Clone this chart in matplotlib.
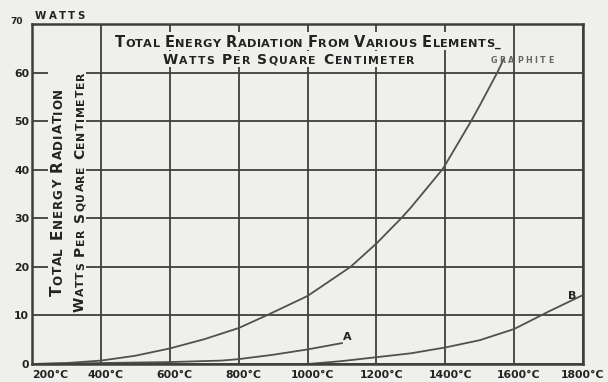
import matplotlib
matplotlib.use('Agg')
import matplotlib.pyplot as plt
import matplotlib.transforms as mtransforms
from matplotlib.font_manager import FontProperties
from matplotlib.patches import Rectangle

# readings, deg C against watts per sq cm
graphite_t = [200, 300, 400, 500, 600, 700, 800, 881, 1000, 1125, 1200, 1272, 1300, 1391, 1400, 1475, 1500, 1551, 1570]
graphite_w = [0, 0.2, 0.7, 1.7, 3.2, 5.1, 7.4, 10, 14, 20, 24.8, 30, 32.2, 40, 41, 50, 53.2, 60, 62.8]
a_t = [200, 400, 600, 750, 800, 900, 1000, 1100]
a_w = [0, 0.2, 0.4, 0.7, 1.0, 1.9, 3.0, 4.3]
b_t = [1000, 1100, 1200, 1300, 1400, 1500, 1600, 1678, 1700, 1800]
b_w = [0, 0.6, 1.4, 2.2, 3.4, 4.9, 7.2, 10, 10.8, 14.2]

xticks = [200, 400, 600, 800, 1000, 1200, 1400, 1600, 1800]
xlabels = ['200°C', '400°C', '600°C', '800°C', '1000°C', '1200°C', '1400°C', '1600°C', '1800°C']
yticks = [0, 10, 20, 30, 40, 50, 60, 70]
ylabels = ['0', '10', '20', '30', '40', '50', '60', '70']

PAPER = '#efefeb'
INK = '#232323'
RULE = '#3e3e3e'
FONT = 'DejaVu Sans'


def letter(ax, x, y, text, size, big=None, gap=1.0, space=5.0, rotation=0,
           ha='center', color=INK, weight='bold'):
    # hand lettering: capitals of the source drawn at `big`, the rest as
    # small capitals at `size`, each glyph placed with a fixed gap in pixels
    fig = ax.figure
    renderer = fig.canvas.get_renderer()
    items = []
    pos = 0.0
    top = 0.0
    for ch in text:
        if ch == ' ':
            pos += space
            continue
        s = big if (big and ch.isupper()) else size
        g = ch.upper()
        prop = FontProperties(family=FONT, weight=weight, size=s)
        w, h, d = renderer.get_text_width_height_descent(g, prop, ismath=False)
        items.append((g, s, pos))
        pos += w + gap
        top = max(top, h - d)
    length = pos - gap
    start = {'left': 0.0, 'center': -length / 2, 'right': -length}[ha]
    for g, s, p in items:
        off = start + p
        dx, dy = (off, 0) if rotation == 0 else (0, off)
        tr = mtransforms.offset_copy(ax.transData, fig=fig, x=dx, y=dy, units='dots')
        ax.text(x, y, g, fontsize=s, fontweight=weight, family=FONT, color=color,
                rotation=rotation, rotation_mode='anchor', ha='left', va='baseline',
                transform=tr, zorder=4, clip_on=False)
    x0, y0 = ax.transData.transform((x, y))
    if rotation == 0:
        return (x0 + start, y0, x0 + start + length, y0 + top)
    return (x0 - top, y0 + start, x0, y0 + start + length)


def blank(ax, boxes, pad=3):
    # rub the rules out behind a block of lettering
    x0 = min(b[0] for b in boxes) - pad
    y0 = min(b[1] for b in boxes) - pad
    x1 = max(b[2] for b in boxes) + pad
    y1 = max(b[3] for b in boxes) + pad
    ax.add_patch(Rectangle((x0, y0), x1 - x0, y1 - y0, transform=mtransforms.IdentityTransform(),
                           facecolor=PAPER, edgecolor='none', zorder=1.7))


fig = plt.figure(figsize=(6.08, 3.82), dpi=100, facecolor=PAPER)
ax = fig.add_axes([32 / 608, 18 / 382, 551 / 608, 340 / 382])
ax.set_facecolor(PAPER)
ax.set_xlim(200, 1800)
ax.set_ylim(0, 70)

ax.set_xticks(xticks)
ax.set_xticklabels(xlabels, fontsize=7.8, fontweight='bold', color=INK, family=FONT)
ax.set_yticks(yticks)
ax.set_yticklabels(ylabels, fontsize=7.8, fontweight='bold', color=INK, family=FONT)
ax.tick_params(length=0)
ax.tick_params(axis='x', pad=4)
ax.tick_params(axis='y', pad=2)
xl = ax.get_xticklabels()
xl[0].set_horizontalalignment('left')
for lab in xl[1:-1]:
    lab.set_transform(lab.get_transform() + mtransforms.ScaledTranslation(5 / 100, 0, fig.dpi_scale_trans))
top_lab = ax.get_yticklabels()[-1]
top_lab.set_fontsize(6.5)
top_lab.set_transform(top_lab.get_transform() + mtransforms.ScaledTranslation(-6 / 100, 4 / 100, fig.dpi_scale_trans))

ax.grid(True, color=RULE, lw=1.3)
for sp in ax.spines.values():
    sp.set_color(RULE)
    sp.set_linewidth(1.8)

ax.plot(graphite_t, graphite_w, color='#505050', lw=1.3, zorder=2)
ax.plot(a_t, a_w, color='#505050', lw=1.3, zorder=2)
ax.plot(b_t, b_w, color='#505050', lw=1.3, zorder=2)

# title block, upper middle
t1 = letter(ax, 1000, 65.3, 'Total Energy Radiation From Various Elements_', 8.2, big=10.5, gap=0.4, space=5)
t2 = letter(ax, 945, 61.8, 'Watts Per Square Centimeter', 7.8, big=10.0, gap=1.3, space=6)
blank(ax, [t1], pad=3)
blank(ax, [t2], pad=3)

# upright scale caption in the first column
v1 = letter(ax, 287, 35.4, 'Total Energy Radiation', 8.6, big=11.0, gap=0.8, space=7, rotation=90)
v2 = letter(ax, 351, 35.4, 'Watts Per Square Centimeter', 7.8, big=10.0, gap=0.8, space=6, rotation=90)
blank(ax, [v1, v2], pad=2)

letter(ax, 1623, 61.9, 'GRAPHITE', 5.8, gap=2.6, color='#666666')
letter(ax, 1116, 4.9, 'A', 8.0)
letter(ax, 1768, 13.4, 'B', 8.0)
letter(ax, 209, 71.0, 'WATTS', 7.4, gap=2.2, ha='left')

fig.savefig('out.png', dpi=100, facecolor=PAPER)
